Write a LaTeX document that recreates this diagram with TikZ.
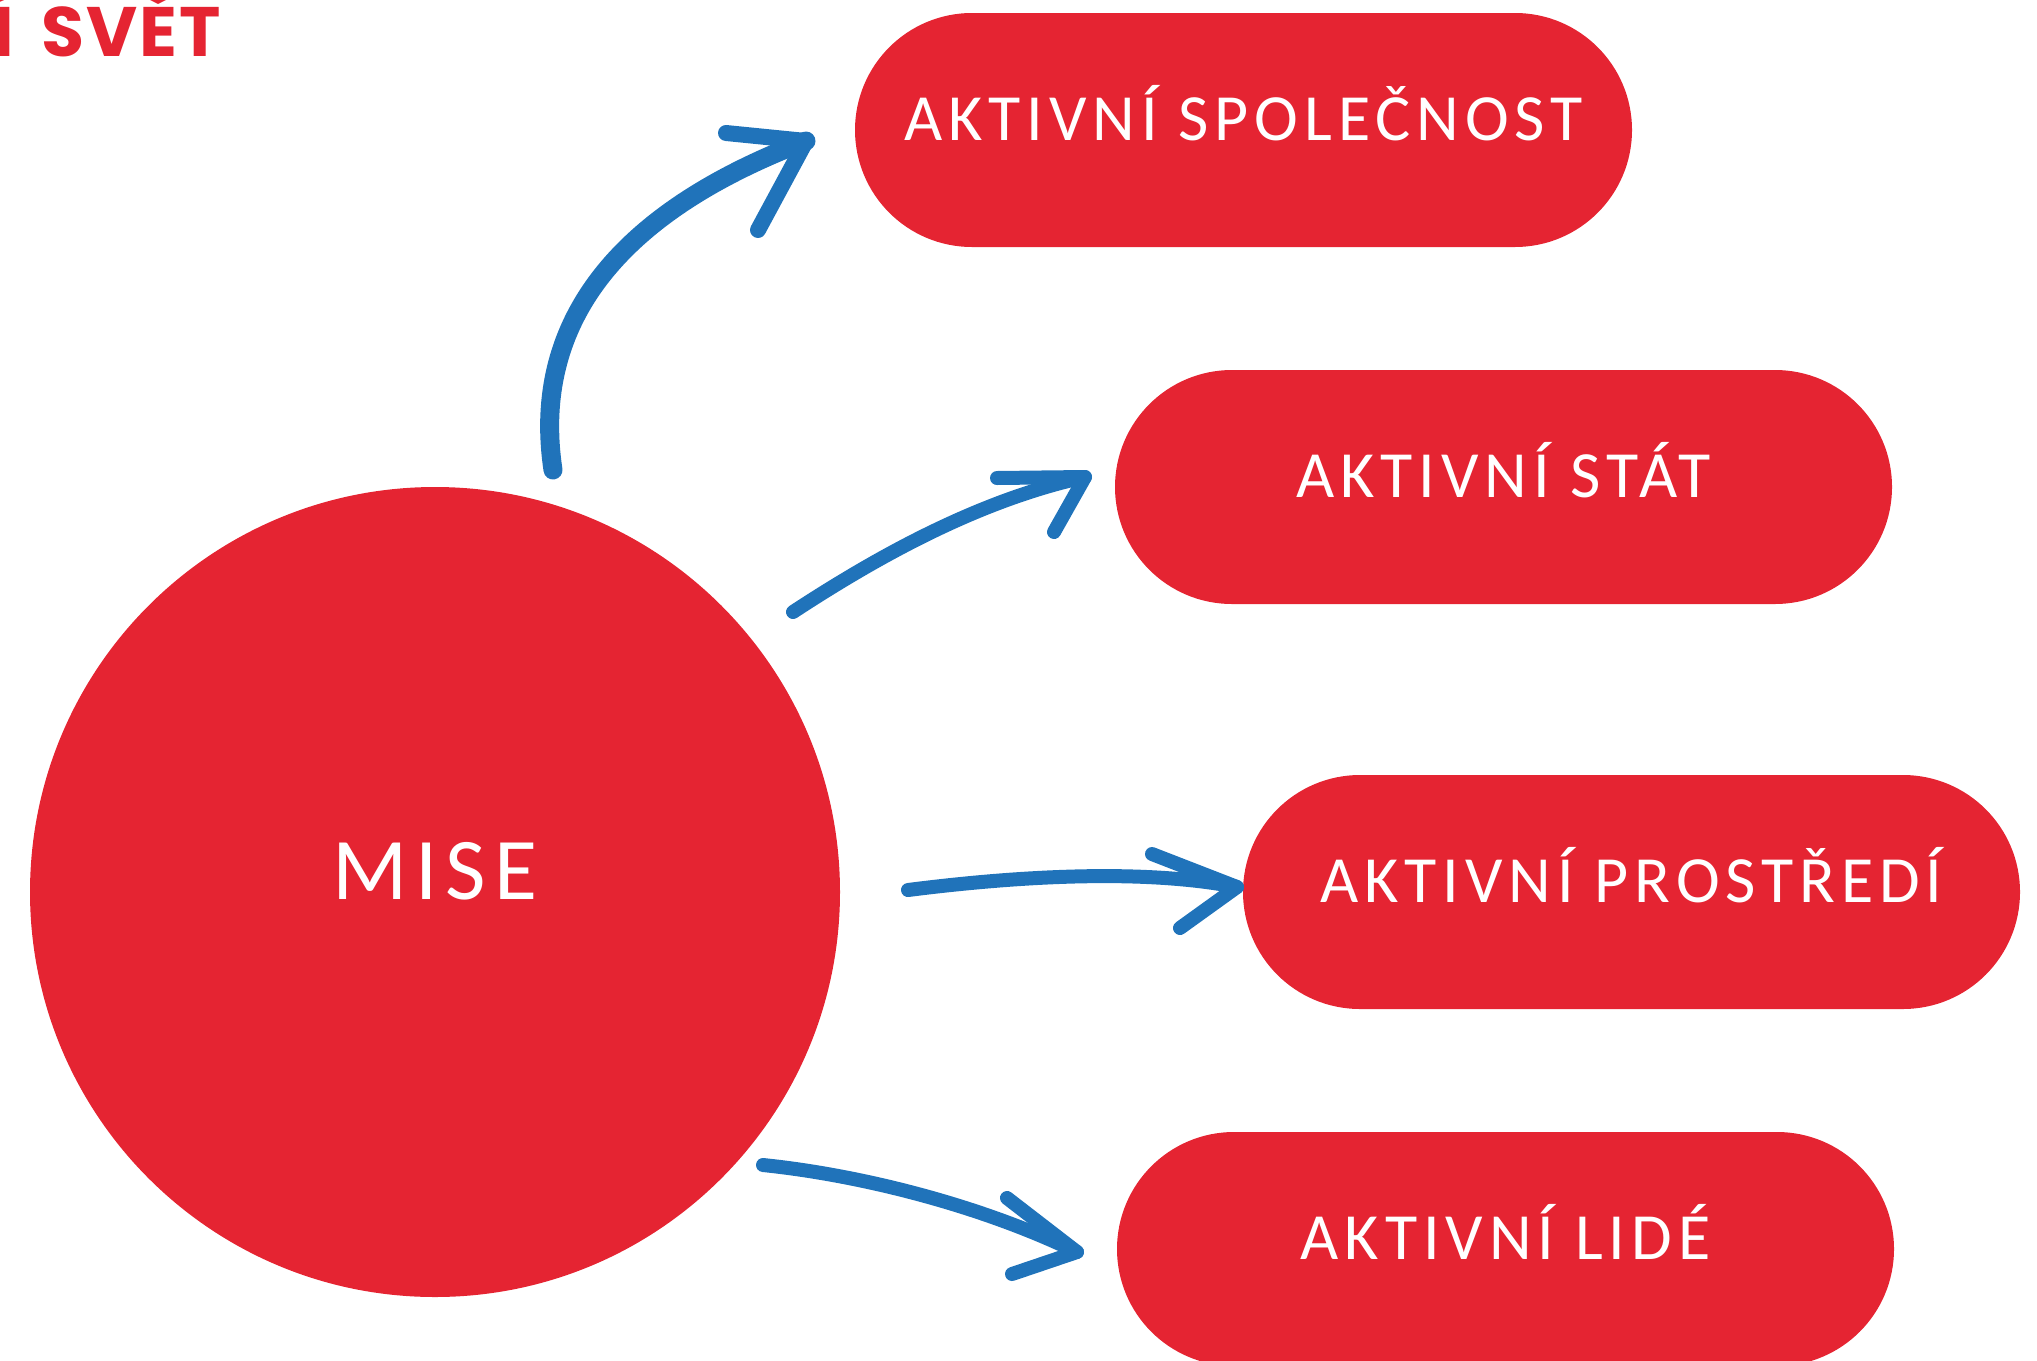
\documentclass[tikz,border=0pt]{standalone}
\usepackage{fontspec}
\newfontfamily\pillfont[LetterSpace=9]{Carlito}
\newfontfamily\titlefont[LetterSpace=3,WordSpace=1.6]{Poppins}
\definecolor{mred}{HTML}{E52432}
\definecolor{mblue}{HTML}{2073BA}
\begin{document}
\begin{tikzpicture}[x=1pt,y=-1pt,
  pill/.style={fill=mred,draw=none,rounded corners=117pt,minimum width=777pt,minimum height=234pt,inner sep=0pt,
     text=white,font=\pillfont\fontsize{66}{70}\selectfont,text height=20pt,text depth=0pt},
  brush/.style={draw=mblue,line width=14pt,line cap=round,line join=round}]
\useasboundingbox (0,0) rectangle (2037,1360);
\node[anchor=base east,text=mred,font=\titlefont\bfseries\fontsize{70}{74}\selectfont,inner sep=0pt] (title) at (221,56) {Í SVĚT};
\node[circle,fill=mred,minimum size=810pt,inner sep=0pt,text=white,font=\pillfont\fontsize{88}{90}\selectfont,text height=14pt,text depth=0pt] (mise) at (435,892) {MISE};
\node[pill] (spol) at (1243.5,130) {AKTIVNÍ SPOLEČNOST};
\node[pill] (stat) at (1503.5,487) {AKTIVNÍ STÁT};
\node[pill] (prost) at (1631.5,892) {AKTIVNÍ PROSTŘEDÍ};
\node[pill] (lide) at (1505.5,1249) {AKTIVNÍ LIDÉ};
% arrow 1
\coordinate (a1s) at (553,470);
\coordinate (a1t) at (806,141);
\coordinate (a1u) at (726,133);
\coordinate (a1l) at (758,230);
\draw[brush,line width=19pt] (a1s) .. controls (535,350) and (585,225) .. (a1t);
\draw[brush,line width=16pt] (a1u) -- (a1t) -- (a1l);
% arrow 2
\coordinate (a2s) at (793,612);
\coordinate (a2t) at (1085,477);
\coordinate (a2u) at (997,478);
\coordinate (a2l) at (1054,532);
\draw[brush] (a2s) .. controls (880,555) and (980,500) .. (a2t);
\draw[brush] (a2u) -- (a2t) -- (a2l);
% arrow 3
\coordinate (a3s) at (908,890);
\coordinate (a3t) at (1237,887);
\coordinate (a3u) at (1152,854);
\coordinate (a3l) at (1180,928);
\draw[brush] (a3s) .. controls (1010,877) and (1140,868) .. (a3t);
\draw[brush] (a3u) -- (a3t) -- (a3l);
% arrow 4
\coordinate (a4s) at (763,1165);
\coordinate (a4t) at (1077,1252);
\coordinate (a4u) at (1007,1198);
\coordinate (a4l) at (1012,1274);
\draw[brush] (a4s) .. controls (860,1175) and (980,1205) .. (a4t);
\draw[brush] (a4u) -- (a4t) -- (a4l);
\end{tikzpicture}
\end{document}
